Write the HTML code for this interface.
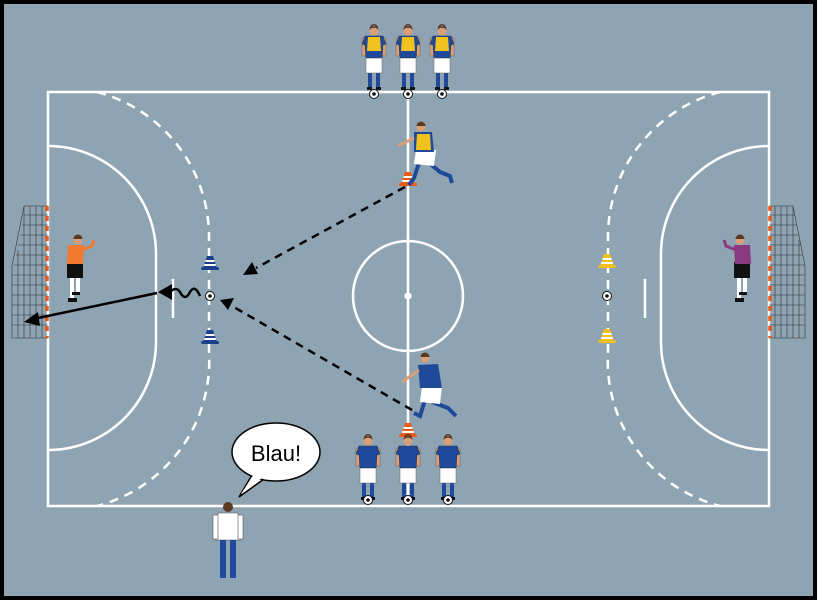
<!DOCTYPE html>
<html><head><meta charset="utf-8"><style>
html,body{margin:0;padding:0;background:#000}
svg{display:block}
</style></head><body>
<svg width="817" height="600" viewBox="0 0 817 600" xmlns="http://www.w3.org/2000/svg">
<defs>
<g id="stand">
 <!-- legs -->
 <rect x="-6" y="46" width="4" height="16" fill="#1f4a9a"/>
 <rect x="2" y="46" width="4" height="16" fill="#1f4a9a"/>
 <rect x="-7" y="61" width="5" height="3" fill="#111"/>
 <rect x="2" y="61" width="5" height="3" fill="#111"/>
 <rect x="-8" y="31" width="16" height="16" fill="#fff" stroke="#666" stroke-width="0.5"/>
 <rect x="-12" y="12" width="3.5" height="18" fill="#d9a07a" stroke="#555" stroke-width="0.4"/>
 <rect x="8.5" y="12" width="3.5" height="18" fill="#d9a07a" stroke="#555" stroke-width="0.4"/>
 <path d="M-9 10 L9 10 L12 18 L9 19 L8 32 L-8 32 L-9 19 L-12 18 Z" fill="#1f4a9a" stroke="#333" stroke-width="0.5"/>
 <circle cx="0" cy="5" r="4.5" fill="#d9a07a"/>
 <path d="M-4.5 4 A4.5 4.5 0 0 1 4.5 4 L4 2 A4 4 0 0 0 -4 2Z" fill="#5a3a22"/>
 <path d="M-4.5 4 Q-4 -1 0 0.5 Q4 -1 4.5 4 Q2 1 0 2 Q-2 1 -4.5 4Z" fill="#5a3a22"/>
</g>
<g id="ball"><circle r="4.5" fill="#fff" stroke="#111" stroke-width="1"/><circle r="1.8" fill="#111"/></g>
<g id="cone"><path d="M-3 -12 L3 -12 L7 0 L-7 0Z" fill="currentColor"/><rect x="-9" y="-1" width="18" height="3" rx="1.5" fill="currentColor"/><rect x="-4.5" y="-8" width="9" height="2" fill="#fff"/><rect x="-5.8" y="-4" width="11.6" height="2" fill="#fff"/></g>
</defs>
<rect x="0" y="0" width="817" height="600" fill="#000"/>
<rect x="4" y="4" width="809" height="592" fill="#8fa4b3"/>
<g fill="none" stroke="#fff" stroke-width="2.5">
 <rect x="48" y="92" width="721" height="414"/>
 <line x1="408" y1="92" x2="408" y2="506"/>
 <circle cx="408" cy="296" r="55"/>
 <path d="M48 146 A108 108 0 0 1 156 254 L156 342 A108 108 0 0 1 48 450"/>
 <path d="M769 146 A108 108 0 0 0 661 254 L661 342 A108 108 0 0 0 769 450"/>
 <path d="M97 92 A150 150 0 0 1 209 240 L209 352 A150 150 0 0 1 97 506" stroke-dasharray="9 7"/>
 <path d="M720 92 A150 150 0 0 0 608 240 L608 352 A150 150 0 0 0 720 506" stroke-dasharray="9 7"/>
 <line x1="173" y1="279" x2="173" y2="318"/>
 <line x1="645" y1="279" x2="645" y2="318"/>
</g>
<circle cx="408" cy="296" r="3.5" fill="#fff"/>
<!-- goals -->
<g stroke="#333" stroke-width="0.6" fill="none">
 <path d="M48 206 L24 206 L12 266 L12 338 L48 338"/>
 <path d="M769 206 L793 206 L805 266 L805 338 L769 338"/>
 <path d="M24 215H48M22 225H48M20 235H48M18 245H48M16 255H48M14 265H48M12 275H48M12 285H48M12 295H48M12 305H48M12 315H48M12 325H48
 M30 206V338M36 206V338M42 206V338M18 250V338M24 206V338"/>
 <path d="M769 215H795M769 225H797M769 235H799M769 245H801M769 255H803M769 265H805M769 275H805M769 285H805M769 295H805M769 305H805M769 315H805M769 325H805
 M775 206V338M781 206V338M787 206V338M793 206V338M799 240V338"/>
</g>
<line x1="47" y1="206" x2="47" y2="338" stroke="#e85a1a" stroke-width="3.5" stroke-dasharray="5 5"/>
<line x1="770" y1="206" x2="770" y2="338" stroke="#e85a1a" stroke-width="3.5" stroke-dasharray="5 5"/>
<!-- cones -->
<use href="#cone" x="210" y="268" style="color:#1c3f8c"/>
<use href="#cone" x="210" y="342" style="color:#1c3f8c"/>
<use href="#cone" x="607" y="266" style="color:#f0c020"/>
<use href="#cone" x="607" y="341" style="color:#f0c020"/>
<use href="#cone" x="408" y="184" style="color:#e85a1a"/>
<use href="#cone" x="408" y="435" style="color:#e85a1a"/>
<use href="#ball" x="210" y="296"/>
<use href="#ball" x="607" y="296"/>
<!-- arrows -->
<g stroke="#000" stroke-width="2.5" fill="none">
 <line x1="405" y1="187" x2="256" y2="268" stroke-dasharray="8 6"/>
 <line x1="412" y1="410" x2="232" y2="306" stroke-dasharray="8 6"/>
 <line x1="157" y1="293" x2="38" y2="318"/>
 <path d="M200 296 Q195 284 190 292 Q185 302 180 292 Q176 286 170 292"/>
</g>
<g fill="#000">
 <path d="M243 275 L252 262 L258 274Z"/>
 <path d="M220 300 L234 298 L228 310Z"/>
 <path d="M24 322 L38 312 L40 326Z"/>
 <path d="M158 292 L172 284 L172 300Z"/>
</g>
<!-- top yellow players -->
<g>
 <use href="#stand" x="374" y="26"/><use href="#stand" x="408" y="26"/><use href="#stand" x="442" y="26"/>
 <path d="M368 37h12l1 14h-14z M402 37h12l1 14h-14z M436 37h12l1 14h-14z" fill="#f2c21f"/>
 <use href="#ball" x="374" y="94"/><use href="#ball" x="408" y="94"/><use href="#ball" x="442" y="94"/>
</g>
<!-- bottom blue players -->
<g>
 <use href="#stand" x="368" y="436"/><use href="#stand" x="408" y="436"/><use href="#stand" x="448" y="436"/>
 <use href="#ball" x="368" y="500"/><use href="#ball" x="408" y="500"/><use href="#ball" x="448" y="500"/>
</g>
<!-- running yellow -->
<g>
 <path d="M420 160 L414 178 L409 185 M428 162 L440 172 L450 176 L452 183" stroke="#1f4a9a" stroke-width="4" fill="none"/>
 <path d="M416 150 L436 150 L434 166 L414 164Z" fill="#fff"/>
 <path d="M414 132 L432 132 L434 152 L414 152Z" fill="#1f4a9a"/>
 <path d="M417 134 L430 134 L431 150 L416 150Z" fill="#f2c21f"/>
 <path d="M414 138 L398 146" stroke="#d9a07a" stroke-width="3"/>
 <circle cx="421" cy="127" r="4.5" fill="#d9a07a"/><path d="M416.5 126 A4.5 4.5 0 0 1 425.5 126Z" fill="#5a3a22"/>
</g>
<!-- running blue -->
<g>
 <path d="M425 400 L420 416 L414 413 M432 402 L448 408 L456 416" stroke="#1f4a9a" stroke-width="4" fill="none"/>
 <path d="M422 386 L442 386 L440 404 L420 402Z" fill="#fff"/>
 <path d="M418 365 L438 364 L442 388 L420 388Z" fill="#1f4a9a"/>
 <path d="M419 370 L402 382" stroke="#d9a07a" stroke-width="3"/>
 <circle cx="425" cy="358" r="4.5" fill="#d9a07a"/><path d="M420.5 357 A4.5 4.5 0 0 1 429.5 357Z" fill="#5a3a22"/>
</g>
<!-- left GK -->
<g>
 <rect x="70" y="278" width="4" height="20" fill="#fff"/><rect x="76" y="276" width="4" height="16" fill="#fff"/>
 <rect x="68" y="298" width="9" height="4" fill="#111"/><rect x="72" y="292" width="8" height="3" fill="#111"/>
 <rect x="67" y="262" width="16" height="16" fill="#111"/>
 <path d="M68 245 L84 245 L83 264 L67 264Z" fill="#f07a30"/>
 <path d="M82 250 L92 246 L94 240" stroke="#f07a30" stroke-width="3" fill="none"/>
 <circle cx="78" cy="240" r="4.5" fill="#d9a07a"/><path d="M73.5 239 A4.5 4.5 0 0 1 82.5 239Z" fill="#5a3a22"/>
</g>
<!-- right GK -->
<g>
 <rect x="737" y="278" width="4" height="20" fill="#fff"/><rect x="743" y="276" width="4" height="16" fill="#fff"/>
 <rect x="735" y="298" width="9" height="4" fill="#111"/><rect x="739" y="292" width="8" height="3" fill="#111"/>
 <rect x="734" y="262" width="16" height="16" fill="#111"/>
 <path d="M734 245 L750 245 L751 264 L735 264Z" fill="#8a3a80"/>
 <path d="M736 250 L726 246 L724 240" stroke="#8a3a80" stroke-width="3" fill="none"/>
 <circle cx="740" cy="240" r="4.5" fill="#d9a07a"/><path d="M735.5 239 A4.5 4.5 0 0 1 744.5 239Z" fill="#5a3a22"/>
</g>
<!-- coach -->
<g>
 <rect x="220" y="538" width="6" height="40" fill="#1f4a9a"/><rect x="230" y="538" width="6" height="40" fill="#1f4a9a"/>
 <path d="M218 513 L238 513 L240 540 L216 540Z" fill="#fff" stroke="#555" stroke-width="0.6"/>
 <rect x="213" y="515" width="5" height="24" fill="#fff" stroke="#555" stroke-width="0.6"/>
 <rect x="238" y="515" width="5" height="24" fill="#fff" stroke="#555" stroke-width="0.6"/>
 <circle cx="228" cy="507" r="5" fill="#5a3a22"/>
</g>
<!-- speech bubble -->
<path d="M252 475 L239 497 L264 479" fill="#fff" stroke="#000" stroke-width="1.5"/>
<ellipse cx="276" cy="452" rx="44" ry="29" fill="#fff" stroke="#000" stroke-width="1.5"/>
<path d="M254 474 L241 494 L262 478Z" fill="#fff"/>
<text x="276" y="461" font-family="Liberation Sans, sans-serif" font-size="22" text-anchor="middle" fill="#000">Blau!</text>
</svg>
</body></html>
